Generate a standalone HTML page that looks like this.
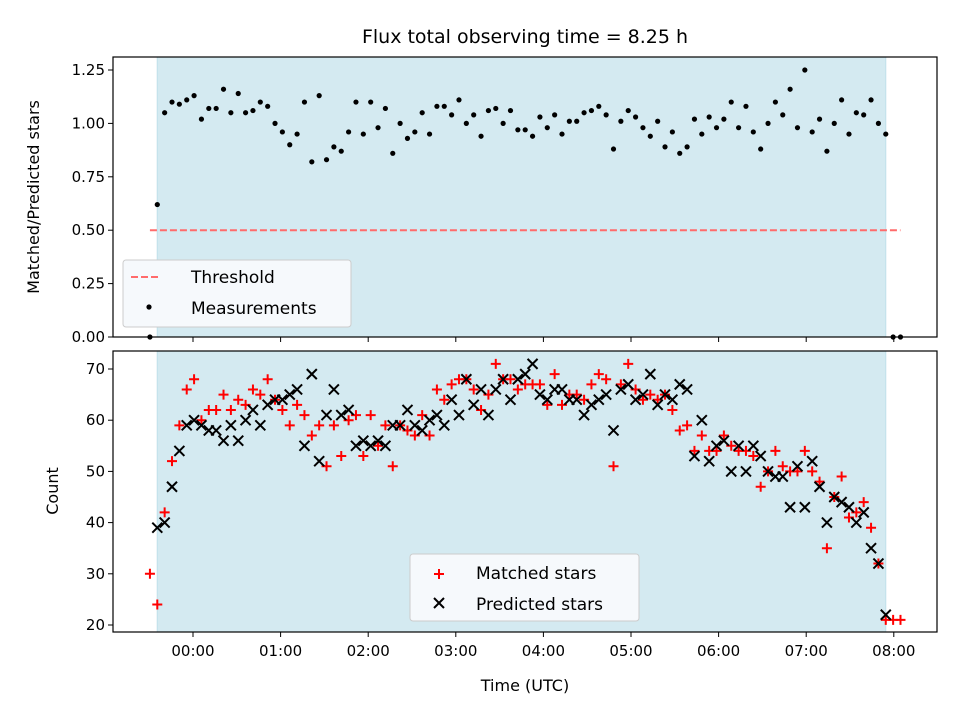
<!DOCTYPE html>
<html><head><meta charset="utf-8"><style>
html,body{margin:0;padding:0;background:#fff;}
svg{display:block;font-family:"DejaVu Sans","Liberation Sans",sans-serif;}
</style></head><body>
<svg id="chart" width="960" height="720" viewBox="0 0 960 720" xmlns="http://www.w3.org/2000/svg">
<rect width="960" height="720" fill="#fff"/>
<text x="525" y="43" font-size="19" text-anchor="middle">Flux total observing time = 8.25 h</text>
<g id="topPanel"></g>
<g id="botPanel"></g>
</svg>
<script>
const startMin = -29.5, stepMin = 5.04;
const ratio = [0,0.62,1.05,1.10,1.09,1.11,1.13,1.02,1.07,1.07,1.16,1.05,1.14,1.05,1.06,1.10,1.08,1.00,0.96,0.90,0.95,1.10,0.82,1.13,0.83,0.89,0.87,0.96,1.10,0.95,1.10,0.98,1.07,0.86,1.00,0.93,0.96,1.05,0.95,1.08,1.08,1.04,1.11,1.00,1.04,0.94,1.06,1.07,1.00,1.06,0.97,0.97,0.94,
1.03,0.98,1.04,0.95,1.01,1.01,1.05,1.06,1.08,1.04,0.88,1.01,1.06,1.03,0.98,0.94,1.01,0.89,0.96,0.86,0.89,1.02,0.95,1.03,0.98,1.02,1.10,0.98,1.08,0.96,0.88,1.00,1.10,1.04,1.16,0.98,1.25,0.96,1.02,0.87,1.00,1.11,0.95,1.05,1.04,1.11,1.00,0.95,0,0];
const matched = [30,24,42,52,59,66,68,60,62,62,65,62,64,63,66,65,68,64,62,59,63,61,57,59,51,59,53,60,61,53,61,55,59,51,59,58,57,61,57,66,64,67,68,68,66,62,65,71,68,68,66,67,67,
67,63,69,63,65,65,64,67,69,68,51,67,71,66,64,65,64,65,62,58,59,54,57,54,54,57,55,54,54,53,47,50,54,51,50,50,54,50,48,35,45,49,41,42,44,39,32,21,21,21];
const predicted = [null,39,40,47,54,59,60,59,58,58,56,59,56,60,62,59,63,64,64,65,66,55,69,52,61,66,61,62,55,56,55,56,55,59,59,62,59,58,60,61,59,64,61,68,63,66,61,66,68,64,68,69,71,
65,64,66,66,64,64,61,63,64,65,58,66,67,64,65,69,63,65,64,67,66,53,60,52,55,56,50,55,50,55,53,50,49,49,43,51,43,52,47,40,45,44,43,40,42,35,32,22,null,null];
const ratioTicks = [0,0.25,0.5,0.75,1.0,1.25];
const countTicks = [20,30,40,50,60,70];
const hourTicks = ["00:00","01:00","02:00","03:00","04:00","05:00","06:00","07:00","08:00"];
const threshold = 0.5;
const shadeStart = -24.5, shadeEnd = 474.5;

const NS="http://www.w3.org/2000/svg";
const X0=113,X1=937,T0=57,T1=337,B0=351,B1=632;
const xS=m=>193+m*87.6/60;
const yT=v=>337-v*213.6;
const yB=v=>369+(70-v)*5.12;
const tMin=i=>startMin+stepMin*i;
function mk(p,tag,a){const e=document.createElementNS(NS,tag);for(const k in a)e.setAttribute(k,a[k]);p.appendChild(e);return e;}
const gTop=document.getElementById('topPanel'), gBot=document.getElementById('botPanel');

function panel(g,y0,y1,name){
  const s=mk(g,'rect',{x:xS(shadeStart),y:y0,width:xS(shadeEnd)-xS(shadeStart),height:y1-y0,fill:'#d4eaf1',stroke:'#bfe0ea','stroke-width':1});
  
  
}
panel(gTop,T0,T1,'top');
panel(gBot,B0,B1,'bottom');

const th=mk(gTop,'line',{x1:xS(tMin(0)),x2:xS(tMin(ratio.length-1)),y1:yT(threshold),y2:yT(threshold),stroke:'#ff6b6b','stroke-width':2,'stroke-dasharray':'7,3'});



ratio.forEach((v,i)=>{
  const c=mk(gTop,'circle',{cx:xS(tMin(i)),cy:yT(v),r:2.6,fill:'#000'});
  
  
});
function plus(g,x,y){return mk(g,'path',{d:`M${x-5},${y}H${x+5}M${x},${y-5}V${y+5}`,stroke:'#f00','stroke-width':2,fill:'none'});}
function cross(g,x,y){return mk(g,'path',{d:`M${x-5},${y-5}L${x+5},${y+5}M${x-5},${y+5}L${x+5},${y-5}`,stroke:'#000','stroke-width':2,fill:'none'});}
matched.forEach((v,i)=>{if(v==null)return;
  const p=plus(gBot,xS(tMin(i)),yB(v));
  
  
});
predicted.forEach((v,i)=>{if(v==null)return;
  const p=cross(gBot,xS(tMin(i)),yB(v));
  
  
});

[[gTop,T0,T1,'top'],[gBot,B0,B1,'bottom']].forEach(([g,a,b,n])=>{
  const f=mk(g,'rect',{x:X0,y:a,width:X1-X0,height:b-a,fill:'none',stroke:'#000','stroke-width':1.2});
  
  
  hourTicks.forEach((h,k)=>{const x=xS(k*60);mk(g,'line',{x1:x,x2:x,y1:b,y2:b+5,stroke:'#000','stroke-width':1});});
});
hourTicks.forEach((h,k)=>{
  const t=mk(gBot,'text',{x:xS(k*60),y:B1+24,'font-size':15,'text-anchor':'middle'});t.textContent=h;
  
  
});
ratioTicks.forEach(v=>{
  const y=yT(v);mk(gTop,'line',{x1:X0-5,x2:X0,y1:y,y2:y,stroke:'#000'});
  const t=mk(gTop,'text',{x:X0-8,y:y+5,'font-size':15,'text-anchor':'end'});t.textContent=v.toFixed(2);
  
  
});
countTicks.forEach(v=>{
  const y=yB(v);mk(gBot,'line',{x1:X0-5,x2:X0,y1:y,y2:y,stroke:'#000'});
  const t=mk(gBot,'text',{x:X0-8,y:y+5,'font-size':15,'text-anchor':'end'});t.textContent=v;
  
  
});
let t;
t=mk(gTop,'text',{x:0,y:0,'font-size':16,'text-anchor':'middle',transform:'translate(39,197) rotate(-90)'});t.textContent='Matched/Predicted stars';


t=mk(gBot,'text',{x:0,y:0,'font-size':16,'text-anchor':'middle',transform:'translate(58,491) rotate(-90)'});t.textContent='Count';


t=mk(gBot,'text',{x:525,y:691,'font-size':16,'text-anchor':'middle'});t.textContent='Time (UTC)';



let lg=mk(gTop,'g',{});


mk(lg,'rect',{x:123,y:260,width:228,height:67,rx:3,fill:'#f6f9fc',stroke:'#ccc','stroke-width':1});
mk(lg,'line',{x1:131,x2:159,y1:277,y2:277,stroke:'#ff6b6b','stroke-width':2,'stroke-dasharray':'7,3'});
t=mk(lg,'text',{x:191,y:283,'font-size':17});t.textContent='Threshold';
mk(lg,'circle',{cx:149,cy:307,r:2.6,fill:'#000'});
t=mk(lg,'text',{x:191,y:314,'font-size':17});t.textContent='Measurements';
lg=mk(gBot,'g',{});


mk(lg,'rect',{x:410,y:554,width:229,height:67,rx:3,fill:'#f6f9fc',stroke:'#ccc','stroke-width':1});
plus(lg,439,574);
t=mk(lg,'text',{x:476,y:579,'font-size':17});t.textContent='Matched stars';
cross(lg,439,603);
t=mk(lg,'text',{x:476,y:610,'font-size':17});t.textContent='Predicted stars';
</script>
</body></html>
